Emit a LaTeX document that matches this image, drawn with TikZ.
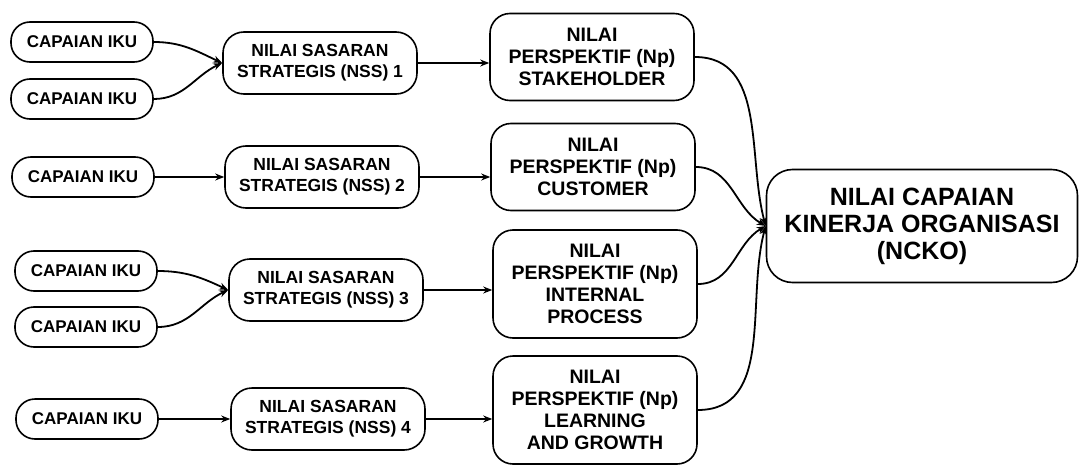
\documentclass[tikz,border=0pt]{standalone}
\usepackage{fontspec}
\setmainfont{Liberation Sans}
\usetikzlibrary{arrows.meta}
\begin{document}
\begin{tikzpicture}[x=1pt,y=1pt,
  box/.style={draw=black, line width=1.6pt, fill=white, align=center, inner sep=0pt},
  ikubox/.style={box, minimum width=142pt, minimum height=40pt, rounded corners=19pt,
    font=\bfseries\fontsize{17}{20}\selectfont},
  nssbox/.style={box, minimum width=194pt, minimum height=62pt, rounded corners=21pt,
    font=\bfseries\fontsize{17.5}{21}\selectfont},
  npbox/.style={box, minimum width=204pt, rounded corners=20pt,
    font=\bfseries\fontsize{19.5}{22}\selectfont},
  nckobox/.style={box, minimum width=311pt, minimum height=113pt, rounded corners=26pt,
    font=\bfseries\fontsize{25}{27}\selectfont},
  link/.style={line width=1.8pt, -{Stealth[length=9pt,width=7pt]}},
]
\useasboundingbox (0,0) rectangle (1081,467);

% CAPAIAN IKU
\node[ikubox] (iku1) at (82,425) {CAPAIAN IKU};
\node[ikubox] (iku2) at (82,368) {CAPAIAN IKU};
\node[ikubox] (iku3) at (83,290) {CAPAIAN IKU};
\node[ikubox] (iku4) at (86,196) {CAPAIAN IKU};
\node[ikubox] (iku5) at (86,140) {CAPAIAN IKU};
\node[ikubox] (iku6) at (87,48) {CAPAIAN IKU};

% NSS
\node[nssbox] (nss1) at (320,404) {NILAI SASARAN\\STRATEGIS (NSS) 1};
\node[nssbox] (nss2) at (322,290) {NILAI SASARAN\\STRATEGIS (NSS) 2};
\node[nssbox] (nss3) at (326,177) {NILAI SASARAN\\STRATEGIS (NSS) 3};
\node[nssbox] (nss4) at (328,48) {NILAI SASARAN\\STRATEGIS (NSS) 4};

% Perspektif
\node[npbox, minimum height=87pt] (np1) at (592,410) {NILAI\\PERSPEKTIF (Np)\\STAKEHOLDER};
\node[npbox, minimum height=87pt] (np2) at (593,300) {NILAI\\PERSPEKTIF (Np)\\CUSTOMER};
\node[npbox, minimum height=108pt] (np3) at (595,183) {NILAI\\PERSPEKTIF (Np)\\INTERNAL\\PROCESS};
\node[npbox, minimum height=108pt] (np4) at (595,57) {NILAI\\PERSPEKTIF (Np)\\LEARNING\\AND GROWTH};

% NCKO
\node[nckobox] (ncko) at (922,241) {NILAI CAPAIAN\\KINERJA ORGANISASI\\(NCKO)};

% IKU -> NSS
\draw[link] (iku1.east) to[out=0,in=155] (nss1.west);
\draw[link] (iku2.east) to[out=0,in=205] (nss1.west);
\draw[link] (iku3.east) -- (iku3.east -| nss2.west);
\draw[link] (iku4.east) to[out=0,in=155] (nss3.west);
\draw[link] (iku5.east) to[out=0,in=205] (nss3.west);
\draw[link] (iku6.east) -- (iku6.east -| nss4.west);

% NSS -> Np
\draw[link] (nss1.east) -- (nss1.east -| np1.west);
\draw[link] (nss2.east) -- (nss2.east -| np2.west);
\draw[link] (nss3.east) -- (nss3.east -| np3.west);
\draw[link] (nss4.east) -- (nss4.east -| np4.west);

% Np -> NCKO
\draw[link] (np1.east) to[out=0,in=105] (ncko.west);
\draw[link] (np2.east) to[out=0,in=150] (ncko.west);
\draw[link] (np3.east) to[out=0,in=210] (ncko.west);
\draw[link] (np4.east) to[out=0,in=255] (ncko.west);
\end{tikzpicture}
\end{document}
